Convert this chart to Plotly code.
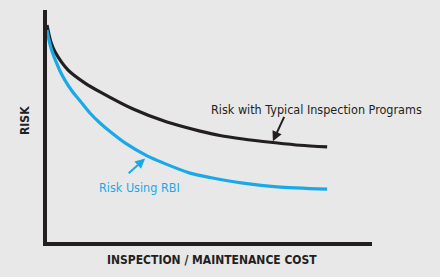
import plotly.graph_objects as go

# Data (arbitrary 0-100 units)
cost_typical = [0, 1.2, 2.5, 6.5, 11.7, 16.3, 26.5, 36.9, 47.1, 53.2, 60.3, 69.5, 77.8, 86.2]
risk_typical = [93.5, 86.2, 81.9, 74.1, 68.5, 64.7, 57.3, 51.7, 47.8, 45.9, 44.4, 42.9, 41.7, 41.0]

cost_rbi = [0, 0.6, 1.5, 2.8, 4.0, 5.5, 7.7, 10.2, 13.2, 16.3, 19.4, 24.0, 30.8, 35.7, 44.0, 50.2, 60.3, 70.8, 86.2]
risk_rbi = [91.4, 87.1, 82.3, 77.6, 73.7, 69.8, 65.1, 60.8, 55.6, 51.3, 47.6, 42.7, 37.1, 34.1, 29.7, 27.8, 25.4, 23.8, 22.8]

label_typical = "Risk with Typical Inspection Programs"
label_rbi = "Risk Using RBI"
x_title = "INSPECTION / MAINTENANCE COST"
y_title = "RISK"

BLACK = "#231f20"
BLUE = "#1aa9e8"
BG = "#e8e8e8"
FONT = "Liberation Sans Narrow, DejaVu Sans Condensed, Arial Narrow, sans-serif"

fig = go.Figure()
fig.add_trace(go.Scatter(x=cost_typical, y=risk_typical, mode="lines",
                         line=dict(color=BLACK, width=3.2, shape="spline", smoothing=0.8),
                         hoverinfo="skip", showlegend=False))
fig.add_trace(go.Scatter(x=cost_rbi, y=risk_rbi, mode="lines",
                         line=dict(color=BLUE, width=3.2, shape="spline", smoothing=0.8),
                         hoverinfo="skip", showlegend=False))

fig.add_annotation(x=82.8, y=57.3, text=label_typical, showarrow=False,
                   font=dict(family=FONT, size=12.5, color=BLACK))
fig.add_annotation(x=69.5, y=43.4, ax=12, ay=-26, text="", showarrow=True,
                   arrowhead=2, arrowsize=1, arrowwidth=2, arrowcolor=BLACK)
fig.add_annotation(x=28.6, y=23.3, text=label_rbi, showarrow=False,
                   font=dict(family=FONT, size=12.5, color=BLUE))
fig.add_annotation(x=30.2, y=36.0, ax=-18, ay=16, text="", showarrow=True,
                   arrowhead=2, arrowsize=1, arrowwidth=2, arrowcolor=BLUE)

fig.add_annotation(xref="paper", yref="paper", x=0.508, y=-0.0776, xanchor="center", yanchor="middle",
                   text="<b>" + x_title + "</b>",
                   showarrow=False, font=dict(family=FONT, size=12, color=BLACK))
fig.add_annotation(xref="paper", yref="paper", x=-0.0677, y=0.526, xanchor="center", yanchor="middle",
                   text="<b>" + y_title + "</b>",
                   showarrow=False, textangle=-90, font=dict(family=FONT, size=12, color=BLACK))

axis_common = dict(showgrid=False, zeroline=False, showticklabels=False, ticks="",
                   showline=True, linecolor=BLACK, linewidth=3.5, fixedrange=True)
fig.update_xaxes(range=[0, 100], **axis_common)
fig.update_yaxes(range=[0, 100], **axis_common)

fig.update_layout(width=440, height=277, margin=dict(l=47, r=68, t=10, b=35),
                  paper_bgcolor=BG, plot_bgcolor=BG)

fig.write_html("out.html", config={"displayModeBar": False})
